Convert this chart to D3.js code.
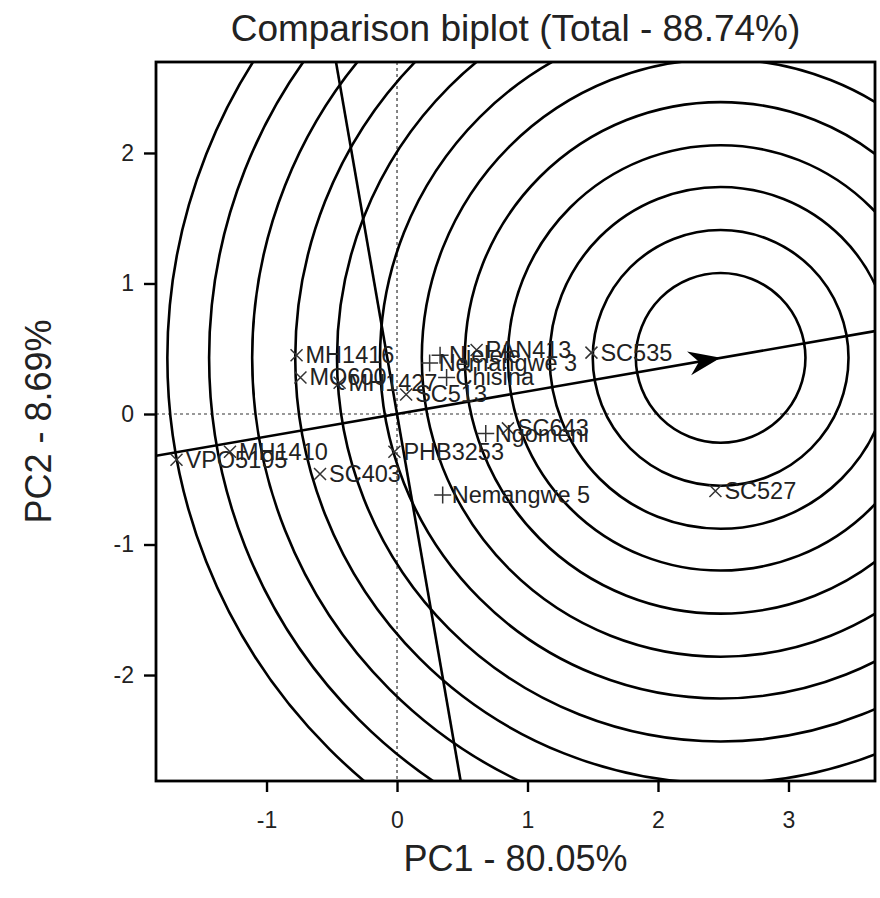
<!DOCTYPE html>
<html>
<head>
<meta charset="utf-8">
<script src="https://cdn.jsdelivr.net/npm/d3@7"></script>
<style>
  body { margin: 0; background: #fff; }
  text { font-family: "Liberation Sans", Arial, sans-serif; }
</style>
</head>
<body>
<svg id="chart" width="880" height="898"></svg>
<script>
(function() {

  // genotypes (x marker)
  const genoNames = ['MH1416', 'MQ600', 'MH1427', 'SC513', 'PAN413', 'SC535',
    'SC643', 'PHB3253', 'SC527', 'SC403', 'MH1410', 'VPO5195'];
  const genoPC1 = [-0.77, -0.74, -0.44, 0.07, 0.61, 1.49, 0.85, -0.02, 2.44, -0.59, -1.28, -1.69];
  const genoPC2 = [0.45, 0.28, 0.24, 0.15, 0.49, 0.47, -0.11, -0.29, -0.59, -0.46, -0.29, -0.35];

  // environments (+ marker)
  const envNames = ['Njelele', 'Nemangwe 3', 'Chisina', 'Ngomeni', 'Nemangwe 5'];
  const envPC1 = [0.33, 0.25, 0.38, 0.68, 0.35];
  const envPC2 = [0.45, 0.39, 0.28, -0.15, -0.62];

  // ideal genotype on the average environment axis
  const idealPoint = [2.48, 0.43];
  // concentric circle radii around the ideal point
  const circleRadii = [0.65, 0.98, 1.31, 1.63, 1.96, 2.29, 2.61, 2.94, 3.26, 3.59, 3.92, 4.24];

  const xTicks = [-1, 0, 1, 2, 3];
  const yTicks = [-2, -1, 0, 1, 2];

  const titleText = 'Comparison biplot (Total - 88.74%)';
  const xTitle = 'PC1 - 80.05%';
  const yTitle = 'PC2 - 8.69%';

  const margin = {left: 156, top: 62, right: 5, bottom: 117};
  const W = 880, H = 898;

  const svg = d3.select('#chart');
  const x = d3.scaleLinear().domain([-1.847, 3.663]).range([margin.left, W - margin.right]);
  const y = d3.scaleLinear().domain([-2.812, 2.697]).range([H - margin.bottom, margin.top]);

  const x0 = x.range()[0], x1 = x.range()[1];
  const yb = y.range()[0], yt = y.range()[1];

  svg.append('defs').append('clipPath').attr('id', 'plotClip')
    .append('rect').attr('x', x0).attr('y', yt).attr('width', x1 - x0).attr('height', yb - yt);

  const plot = svg.append('g').attr('clip-path', 'url(#plotClip)');

  // dotted zero lines
  plot.append('line').attr('x1', x(0)).attr('x2', x(0)).attr('y1', yt).attr('y2', yb)
    .attr('stroke', '#333').attr('stroke-width', 1.2).attr('stroke-dasharray', '3,3');
  plot.append('line').attr('x1', x0).attr('x2', x1).attr('y1', y(0)).attr('y2', y(0))
    .attr('stroke', '#333').attr('stroke-width', 1.2).attr('stroke-dasharray', '3,3');

  // circles
  plot.selectAll('circle.ring').data(circleRadii).join('circle')
    .attr('class', 'ring')
    .attr('cx', x(idealPoint[0])).attr('cy', y(idealPoint[1]))
    .attr('r', d => x(d) - x(0))
    .attr('fill', 'none').attr('stroke', '#000').attr('stroke-width', 2.6);

  // average environment axis through origin and ideal
  const slope = idealPoint[1] / idealPoint[0];
  const xd = x.domain(), yd = y.domain();
  plot.append('line')
    .attr('x1', x(xd[0])).attr('y1', y(xd[0] * slope))
    .attr('x2', x(xd[1])).attr('y2', y(xd[1] * slope))
    .attr('stroke', '#000').attr('stroke-width', 2.6);
  // perpendicular through origin
  plot.append('line')
    .attr('x1', x(-yd[1] * slope)).attr('y1', y(yd[1]))
    .attr('x2', x(-yd[0] * slope)).attr('y2', y(yd[0]))
    .attr('stroke', '#000').attr('stroke-width', 2.6);

  // arrow head at ideal point
  const ang = Math.atan2(y(idealPoint[1]) - y(0), x(idealPoint[0]) - x(0)) * 180 / Math.PI;
  plot.append('path')
    .attr('d', 'M0,0 L-32,-12 L-22,0 L-32,12 Z')
    .attr('transform', `translate(${x(idealPoint[0])},${y(idealPoint[1])}) rotate(${ang})`)
    .attr('fill', '#000');

  // markers
  const mk = 6;
  const gData = genoNames.map((n, i) => ({n, px: genoPC1[i], py: genoPC2[i]}));
  const eData = envNames.map((n, i) => ({n, px: envPC1[i], py: envPC2[i]}));

  const gG = plot.append('g');
  gG.selectAll('path.geno').data(gData).join('path')
    .attr('class', 'geno')
    .attr('d', d => {
      const cx = x(d.px), cy = y(d.py);
      return `M${cx - mk},${cy - mk}L${cx + mk},${cy + mk}M${cx - mk},${cy + mk}L${cx + mk},${cy - mk}`;
    })
    .attr('stroke', '#333').attr('stroke-width', 1.5).attr('fill', 'none');

  const ek = 8.5;
  gG.selectAll('path.env').data(eData).join('path')
    .attr('class', 'env')
    .attr('d', d => {
      const cx = x(d.px), cy = y(d.py);
      return `M${cx - ek},${cy}L${cx + ek},${cy}M${cx},${cy - ek}L${cx},${cy + ek}`;
    })
    .attr('stroke', '#333').attr('stroke-width', 1.5).attr('fill', 'none');

  plot.selectAll('text.lab').data(gData.concat(eData)).join('text')
    .attr('class', 'lab')
    .attr('x', d => x(d.px) + 9)
    .attr('y', d => y(d.py) + 8)
    .style('font-size', '23.5px').attr('fill', '#222')
    .text(d => d.n);

  // frame
  svg.append('rect').attr('x', x0).attr('y', yt).attr('width', x1 - x0).attr('height', yb - yt)
    .attr('fill', 'none').attr('stroke', '#000').attr('stroke-width', 2.8);

  // axes
  const fmt = d => String(d);
  const xAxis = svg.append('g').attr('transform', `translate(0,${yb})`)
    .call(d3.axisBottom(x).tickValues(xTicks).tickSize(11).tickPadding(20).tickFormat(fmt));
  const yAxis = svg.append('g').attr('transform', `translate(${x0},0)`)
    .call(d3.axisLeft(y).tickValues(yTicks).tickSize(12).tickPadding(10).tickFormat(fmt));
  [xAxis, yAxis].forEach(a => {
    a.attr('font-size', null).attr('font-family', null);
    a.select('.domain').remove();
    a.selectAll('.tick line').attr('stroke', '#000').attr('stroke-width', 2.4);
    a.selectAll('.tick text').style('font-size', '23px').attr('fill', '#222');
  });

  svg.append('text').attr('x', (x0 + x1) / 2).attr('y', 41)
    .attr('text-anchor', 'middle').style('font-size', '37px').attr('fill', '#222')
    .text(titleText);
  svg.append('text').attr('x', (x0 + x1) / 2).attr('y', 871)
    .attr('text-anchor', 'middle').style('font-size', '36px').attr('fill', '#222')
    .text(xTitle);
  svg.append('text')
    .attr('transform', `translate(51,${(yt + yb) / 2}) rotate(-90)`)
    .attr('text-anchor', 'middle').style('font-size', '36px').attr('fill', '#222')
    .text(yTitle);

})();
</script>
</body>
</html>
